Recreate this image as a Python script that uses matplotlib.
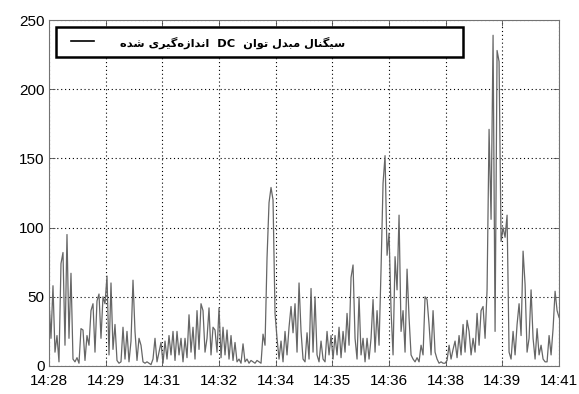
import matplotlib.pyplot as plt
from matplotlib.patches import Rectangle
import numpy as np

# time axis labels (evenly spaced over the 13 minute window)
tick_labels = ['14:28', '14:29', '14:31', '14:32', '14:34',
               '14:35', '14:36', '14:38', '14:39', '14:41']
y_ticks = [0, 50, 100, 150, 200, 250]

signal = [
    48, 20, 58, 10, 22, 3, 74, 82, 15, 95, 20, 67, 5, 3, 6, 2, 27, 26, 4, 22, 15, 40, 45, 10, 47, 52,
    20, 50, 45, 65, 8, 60, 12, 30, 4, 2, 3, 28, 5, 25, 3, 18, 62, 25, 4, 20, 15, 3, 2, 3, 2,
    1, 5, 20, 3, 10, 17, 2, 18, 5, 22, 8, 25, 4, 25, 8, 20, 3, 20, 6, 37, 10, 28, 5, 40, 12,
    45, 40, 10, 20, 42, 8, 28, 26, 10, 42, 6, 28, 8, 26, 5, 22, 4, 17, 3, 5, 2, 16, 3, 5, 2,
    4, 3, 2, 4, 3, 2, 23, 15, 78, 118, 129, 120, 38, 20, 5, 18, 3, 25, 8, 28, 43, 24, 45, 10, 60,
    25, 5, 3, 24, 5, 56, 10, 50, 8, 3, 18, 5, 3, 25, 8, 22, 5, 22, 8, 28, 6, 25, 10, 38, 15,
    64, 73, 20, 5, 50, 8, 20, 3, 20, 5,
    20, 48, 10, 40, 15, 70, 132, 152, 80, 96, 40, 8, 79, 55, 109, 25, 40, 10, 70, 35,
    8, 5, 3, 6, 3, 15, 8, 50, 48, 30, 8, 40, 10, 5, 2, 3, 2, 2, 4, 15,
    5, 12, 18, 6, 22, 8, 30, 10, 33, 25, 8, 20, 10, 38, 15, 40, 43, 20, 55, 171,
    106, 239, 25, 228, 220, 90, 100, 93, 109, 10, 5, 25, 8, 30, 45, 22, 83, 59, 10, 20,
    55, 20, 5, 27, 8, 15, 5, 3, 3, 22, 8, 27, 54, 40, 35,
]

legend_text = 'سیگنال مبدل توان DC اندازه\u200cگیری شده'

# presentation forms: isolated, final, initial, medial
forms = {
    'ا': ('\uFE8D', '\uFE8E', None, None),
    'ب': ('\uFE8F', '\uFE90', '\uFE91', '\uFE92'),
    'ت': ('\uFE95', '\uFE96', '\uFE97', '\uFE98'),
    'د': ('\uFEA9', '\uFEAA', None, None),
    'ر': ('\uFEAD', '\uFEAE', None, None),
    'ز': ('\uFEAF', '\uFEB0', None, None),
    'س': ('\uFEB1', '\uFEB2', '\uFEB3', '\uFEB4'),
    'ش': ('\uFEB5', '\uFEB6', '\uFEB7', '\uFEB8'),
    'ل': ('\uFEDD', '\uFEDE', '\uFEDF', '\uFEE0'),
    'م': ('\uFEE1', '\uFEE2', '\uFEE3', '\uFEE4'),
    'ن': ('\uFEE5', '\uFEE6', '\uFEE7', '\uFEE8'),
    'ه': ('\uFEE9', '\uFEEA', '\uFEEB', '\uFEEC'),
    'و': ('\uFEED', '\uFEEE', None, None),
    'ی': ('\uFBFC', '\uFBFD', '\uFBFE', '\uFBFF'),
    'گ': ('\uFB92', '\uFB93', '\uFB94', '\uFB95'),
}
right_join = set('اآدذرزژو')


def shape_word(word):
    out = []
    for i, c in enumerate(word):
        if c not in forms:
            continue
        prev = i > 0 and word[i - 1] in forms and word[i - 1] not in right_join
        nxt = c not in right_join and i + 1 < len(word) and word[i + 1] in forms
        if prev and nxt:
            out.append(forms[c][3])
        elif prev:
            out.append(forms[c][1])
        elif nxt:
            out.append(forms[c][2])
        else:
            out.append(forms[c][0])
    return ''.join(out)


def to_visual(text):
    # right-to-left paragraph: reverse word order, reverse letters of arabic words
    words = []
    for w in reversed(text.split(' ')):
        if any('\u0600' <= c <= '\u06ff' for c in w):
            words.append(shape_word(w)[::-1])
        else:
            words.append(' ' + w + ' ')
    return ' '.join(words)


plt.rcParams['font.family'] = ['Liberation Sans', 'DejaVu Sans']

fig = plt.figure(figsize=(5.79, 3.94), dpi=100)
ax = fig.add_axes([0.0846, 0.0711, 0.881, 0.878])

x = np.linspace(0, 13, len(signal))
ax.plot(x, signal, color='0.4', lw=0.9)

ax.set_xlim(0, 13)
ax.set_ylim(0, 250)
ax.set_xticks(np.linspace(0, 13, len(tick_labels)))
ax.set_xticklabels(tick_labels)
ax.set_yticks(y_ticks)
ax.tick_params(direction='in', top=True, right=True, labelsize=11,
               length=4, width=0.6, color='0.3')
ax.tick_params(axis='x', pad=6)
ax.tick_params(axis='y', pad=3)
ax.grid(True, linestyle=(0, (1, 2.5)), color='black', lw=0.8)
for s in ax.spines.values():
    s.set_color('0.45')
    s.set_linewidth(0.8)

# legend box drawn by hand
ax.add_patch(Rectangle((0.0137, 0.893), 0.798, 0.087, transform=ax.transAxes,
                       facecolor='white', edgecolor='black', lw=1.8, zorder=5))
ax.plot([0.043, 0.088], [0.939, 0.939], transform=ax.transAxes,
        color='black', lw=1.2, zorder=6)
ax.text(0.58, 0.935, to_visual(legend_text), transform=ax.transAxes,
        ha='right', va='center', fontsize=8.2, fontweight='bold',
        family=['DejaVu Sans'], zorder=6)

fig.savefig('out.png', dpi=100)
